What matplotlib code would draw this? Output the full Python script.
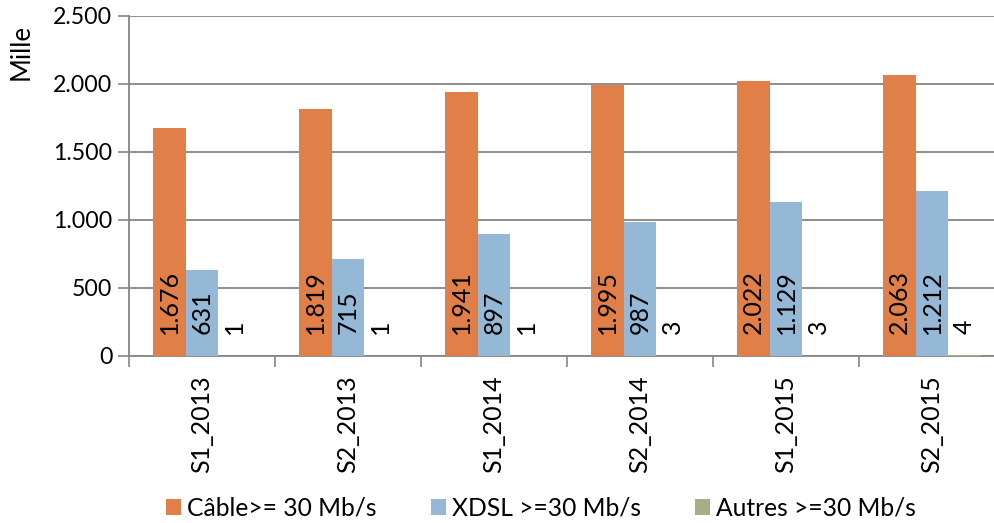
import numpy as np
import matplotlib.pyplot as plt
from matplotlib.ticker import FuncFormatter

plt.rcParams['font.family'] = ['Lato', 'DejaVu Sans']

periodes = ["S1_2013", "S2_2013", "S1_2014", "S2_2014", "S1_2015", "S2_2015"]
cable = [1676, 1819, 1941, 1995, 2022, 2063]
xdsl = [631, 715, 897, 987, 1129, 1212]
autres = [1, 1, 1, 3, 3, 4]
noms = ["Câble>= 30 Mb/s", "XDSL >=30 Mb/s", "Autres >=30 Mb/s"]
couleurs = ["#E07F47", "#95B8D7", "#A5AE84"]


def fmt(v):
    return f"{v:,.0f}".replace(",", ".")


fig = plt.figure(figsize=(9.95, 5.23), dpi=100)
ax = fig.add_axes([129 / 995, 1 - 356 / 523, 876 / 995, 340 / 523])

x = np.arange(len(periodes))
w = 0.223
handles = []
for i, (vals, c) in enumerate(zip([cable, xdsl, autres], couleurs)):
    b = ax.bar(x + (i - 1) * w, vals, w, color=c, zorder=3)
    handles.append(b)
    for xi, v in zip(x + (i - 1) * w, vals):
        ax.text(xi, 165, fmt(v), rotation=90, ha='center', va='bottom',
                fontsize=18, color='black', zorder=4)

ax.set_ylim(0, 2500)
ax.set_yticks(np.arange(0, 2501, 500))
ax.yaxis.set_major_formatter(FuncFormatter(lambda v, p: fmt(v)))
ax.set_xlim(-0.5, len(periodes) - 0.5)
ax.set_xticks(np.arange(-0.5, len(periodes), 1))
ax.set_xticklabels([])
ax.set_xticks(x, minor=True)
ax.set_xticklabels(periodes, minor=True, rotation=90, fontsize=18)
ax.tick_params(axis='x', which='minor', length=0, pad=14)
ax.tick_params(axis='x', which='major', length=8, color='#868686', width=1.2)
ax.tick_params(axis='y', length=8, color='#868686', width=1.2, labelsize=16.7, pad=4)

ax.grid(axis='y', color='#868686', linewidth=1.3, zorder=0)
for s in ['top', 'right']:
    ax.spines[s].set_visible(False)
for s in ['left', 'bottom']:
    ax.spines[s].set_color('#868686')
    ax.spines[s].set_linewidth(1.3)

fig.text(21 / 995, 1 - 52 / 523, "Mille", rotation=90, ha='center', va='center', fontsize=18.5)

fig.legend(handles, noms, loc='center left', bbox_to_anchor=(166 / 995, 1 - 508 / 523),
           ncol=3, frameon=False, fontsize=17.7, handlelength=0.61, handleheight=0.61,
           handletextpad=0.25, columnspacing=2.2, borderaxespad=0, borderpad=0)

fig.savefig("out.png", dpi=100)
